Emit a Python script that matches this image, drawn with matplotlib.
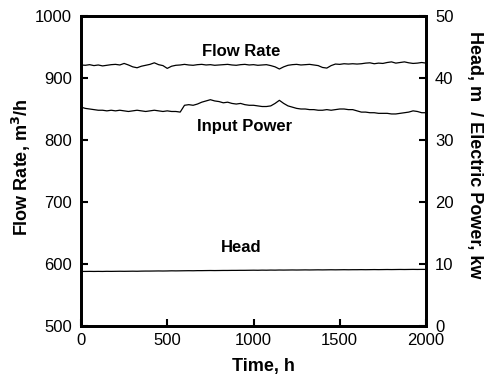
import numpy as np
import matplotlib
matplotlib.use("Agg")
import matplotlib.pyplot as plt

plt.rcParams['font.family'] = ['Liberation Sans', 'DejaVu Sans']

time_h = np.arange(0, 2001, 25)

flow_rate = [
    921, 920.5, 921.5, 920,
    921, 919.5, 920.5, 921.5,
    922, 921, 923.5, 921,
    918, 916.5, 919, 920.5,
    922, 924.5, 921.5, 920,
    915.5, 919, 920.5, 921,
    922, 921, 920.5, 921.5,
    922, 921, 921.5, 920.5,
    921, 921.5, 922, 921,
    920.5, 921.5, 922, 921,
    921.5, 920.5, 921, 921.5,
    920, 918, 914.5, 918,
    920.5, 921.5, 922, 921,
    921.5, 922, 921, 920,
    917, 916, 920, 922.5,
    922, 923, 922.5, 923,
    922.5, 923, 924, 924.5,
    923, 924, 923.5, 925,
    926, 924, 925, 926,
    924.5, 923.5, 924, 925,
    924,
]

input_power = [
    35.3, 35.1, 35.0, 34.9,
    34.8, 34.8, 34.7, 34.8,
    34.7, 34.8, 34.7, 34.6,
    34.7, 34.8, 34.7, 34.6,
    34.7, 34.8, 34.7, 34.6,
    34.7, 34.6, 34.6, 34.5,
    35.6, 35.7, 35.6, 35.8,
    36.1, 36.3, 36.5, 36.3,
    36.2, 36.0, 36.1, 35.9,
    35.8, 35.9, 35.7, 35.6,
    35.6, 35.5, 35.4, 35.4,
    35.5, 35.9, 36.4, 35.9,
    35.5, 35.3, 35.1, 35.0,
    35.0, 34.9, 34.9, 34.8,
    34.8, 34.9, 34.8, 34.9,
    35.0, 35.0, 34.9, 34.9,
    34.7, 34.5, 34.5, 34.4,
    34.4, 34.3, 34.3, 34.3,
    34.2, 34.2, 34.3, 34.4,
    34.5, 34.7, 34.6, 34.4,
    34.4,
]

head = [
    8.80, 8.80, 8.81, 8.80,
    8.81, 8.80, 8.82, 8.81,
    8.82, 8.83, 8.82, 8.83,
    8.84, 8.83, 8.85, 8.86,
    8.86, 8.87, 8.88, 8.87,
    8.88, 8.90, 8.89, 8.90,
    8.91, 8.92, 8.91, 8.93,
    8.93, 8.94, 8.95, 8.94,
    8.95, 8.96, 8.96, 8.97,
    8.97, 8.98, 8.98, 8.99,
    9.00, 8.99, 9.01, 9.00,
    9.02, 9.01, 9.03, 9.02,
    9.03, 9.04, 9.03, 9.04,
    9.05, 9.04, 9.05, 9.06,
    9.05, 9.06, 9.07, 9.06,
    9.07, 9.08, 9.07, 9.08,
    9.08, 9.09, 9.08, 9.09,
    9.10, 9.09, 9.10, 9.11,
    9.10, 9.11, 9.12, 9.11,
    9.12, 9.13, 9.12, 9.13,
    9.13,
]

x_ticks = [0, 500, 1000, 1500, 2000]
left_ticks = [500, 600, 700, 800, 900, 1000]
right_ticks = [0, 10, 20, 30, 40, 50]

fig = plt.figure(figsize=(4.89, 3.78), dpi=100)
ax = fig.add_axes([81/489, 52/378, 345/489, 310/378])
ax2 = ax.twinx()

ax.plot(time_h, flow_rate, color='black', lw=0.9)
ax2.plot(time_h, input_power, color='black', lw=0.9)
ax2.plot(time_h, head, color='black', lw=0.9)

ax.set_xlim(0, 2000)
ax.set_ylim(500, 1000)
ax2.set_ylim(0, 50)
ax.set_xticks(x_ticks)
ax.set_yticks(left_ticks)
ax2.set_yticks(right_ticks)

for a in (ax, ax2):
    for s in a.spines.values():
        s.set_linewidth(2)
ax.tick_params(axis='x', direction='in', length=5, width=1.5, labelsize=12, pad=5, top=False)
ax.tick_params(axis='y', direction='in', length=5, width=1.5, labelsize=12, pad=6.5, right=False)
ax2.tick_params(direction='in', length=5, width=1.5, labelsize=12, pad=6.5)

ax.set_xlabel('Time, h', fontsize=13, fontweight='bold', va='center')
ax.xaxis.set_label_coords(0.53, -0.132)
ax.set_ylabel('Flow Rate, m$^\\mathbf{3}$/h', fontsize=13, fontweight='bold', va='center')
ax.yaxis.set_label_coords(-0.174, 0.513)
ax2.set_ylabel('Head, m  / Electric Power, kw', fontsize=13, fontweight='bold',
               rotation=270, va='center', ha='center')
ax2.yaxis.set_label_coords(1.142, 0.552)

ax.text(927, 942, 'Flow Rate', ha='center', va='center', fontsize=12, fontweight='bold')
ax.text(951, 821, 'Input Power', ha='center', va='center', fontsize=12, fontweight='bold')
ax.text(927, 627, 'Head', ha='center', va='center', fontsize=12, fontweight='bold')

fig.savefig('out.png', dpi=100)
